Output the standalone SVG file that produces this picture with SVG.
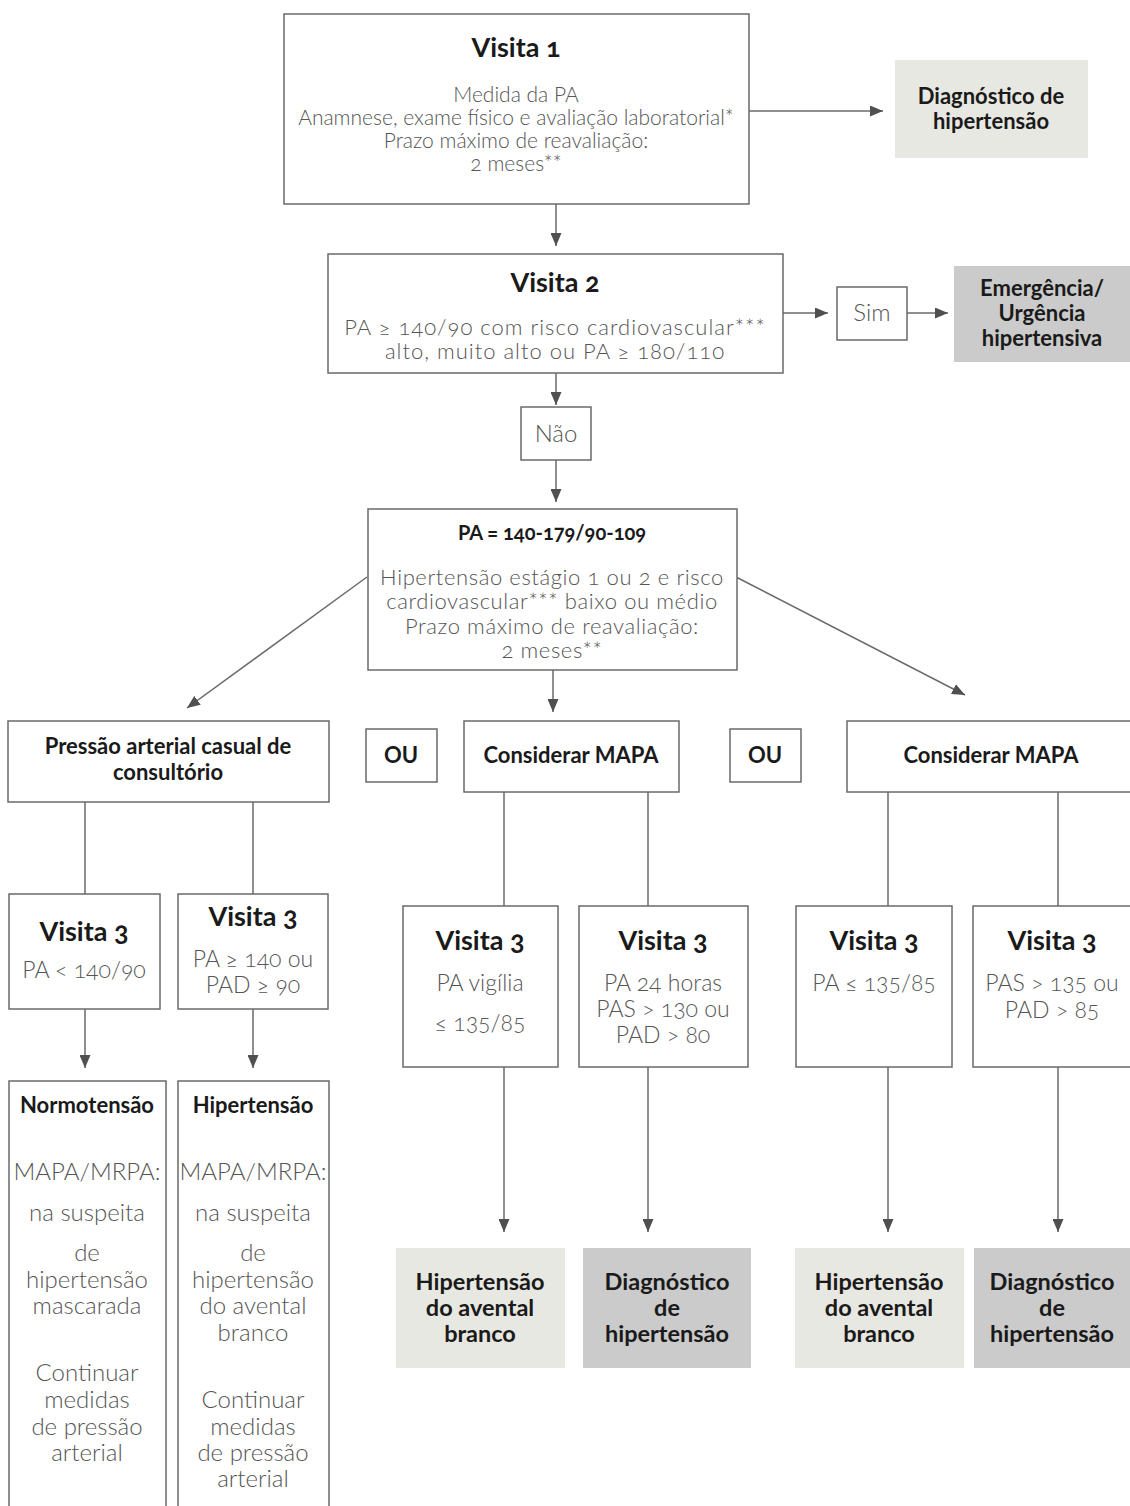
<svg xmlns="http://www.w3.org/2000/svg" width="1130" height="1506" viewBox="0 0 1130 1506">
<defs>
<marker id="ah" markerWidth="13" markerHeight="11" refX="13" refY="5.5" orient="auto" markerUnits="userSpaceOnUse">
<path d="M0,0 L13,5.5 L0,11 z" fill="#505050"/>
</marker>
<style>
text{font-family:Lato,"Open Sans","Liberation Sans",sans-serif;text-anchor:middle;font-variant-numeric:oldstyle-nums}
.box{fill:#fff;stroke:#6a6a6a;stroke-width:1.5}
.lt{fill:#e8e8e2}
.dk{fill:#cbcbcb}
.t1{font-size:27px;font-weight:700;fill:#1a1a1a}
.tb{font-size:22px;font-weight:700;fill:#1a1a1a}
.tf{font-size:23.5px;font-weight:700;fill:#1a1a1a}
.b{font-size:21px;font-weight:300;fill:#555}
.b2{font-size:24px;font-weight:300;fill:#555}
.b3{font-size:23px;font-weight:300;fill:#555}
.bv{font-size:22px;font-weight:300;fill:#555;letter-spacing:1px}
.bp{font-size:22px;font-weight:300;fill:#555;letter-spacing:0.6px}
.c{stroke:#6a6a6a;stroke-width:1.5;fill:none}
.a{stroke:#6a6a6a;stroke-width:1.5;fill:none;marker-end:url(#ah)}
</style>
</defs>
<rect width="1130" height="1506" fill="#fff"/>
<g id="connectors">
<line class="a" x1="749" y1="111" x2="883" y2="111"/>
<line class="a" x1="556" y1="204" x2="556" y2="246"/>
<line class="a" x1="783" y1="313" x2="828" y2="313"/>
<line class="a" x1="907" y1="313" x2="948" y2="313"/>
<line class="a" x1="556" y1="373" x2="556" y2="405"/>
<line class="a" x1="556" y1="460" x2="556" y2="502"/>
<line class="a" x1="367" y1="577" x2="187" y2="708"/>
<line class="a" x1="553" y1="670" x2="553" y2="712"/>
<line class="a" x1="736" y1="577" x2="965" y2="695"/>
<line class="c" x1="85" y1="802" x2="85" y2="894"/>
<line class="c" x1="253" y1="802" x2="253" y2="894"/>
<line class="c" x1="504" y1="792" x2="504" y2="906"/>
<line class="c" x1="648" y1="792" x2="648" y2="906"/>
<line class="c" x1="888" y1="792" x2="888" y2="906"/>
<line class="c" x1="1058" y1="792" x2="1058" y2="906"/>
<line class="a" x1="85" y1="1009" x2="85" y2="1068"/>
<line class="a" x1="253" y1="1009" x2="253" y2="1068"/>
<line class="a" x1="504" y1="1067" x2="504" y2="1232"/>
<line class="a" x1="648" y1="1067" x2="648" y2="1232"/>
<line class="a" x1="888" y1="1067" x2="888" y2="1232"/>
<line class="a" x1="1058" y1="1067" x2="1058" y2="1232"/>
</g>
<g id="visita1">
<rect class="box" x="284" y="14" width="465" height="190"/>
<text class="t1" x="516" y="57">Visita 1</text>
<text class="b" x="516" y="102">Medida da PA</text>
<text class="b" x="516" y="125">Anamnese, exame físico e avaliação laboratorial*</text>
<text class="b" x="516" y="148">Prazo máximo de reavaliação:</text>
<text class="b" x="516" y="171">2 meses**</text>
</g>
<g id="diag-top">
<rect class="lt" x="895" y="60" width="193" height="98"/>
<text class="tb" x="991" y="104">Diagnóstico de</text>
<text class="tb" x="991" y="129">hipertensão</text>
</g>
<g id="visita2">
<rect class="box" x="328" y="254" width="455" height="119"/>
<text class="t1" x="555" y="292">Visita 2</text>
<text class="bv" x="555" y="335">PA ≥ 140/90 com risco cardiovascular***</text>
<text class="bv" x="555" y="359">alto, muito alto ou PA ≥ 180/110</text>
</g>
<g id="sim">
<rect class="box" x="837" y="287" width="70" height="53"/>
<text class="b2" x="872" y="321">Sim</text>
</g>
<g id="emergencia">
<rect class="dk" x="954" y="266" width="176" height="96"/>
<text class="tb" x="1042" y="296">Emergência/</text>
<text class="tb" x="1042" y="321">Urgência</text>
<text class="tb" x="1042" y="346">hipertensiva</text>
</g>
<g id="nao">
<rect class="box" x="521" y="407" width="70" height="53"/>
<text class="b2" x="556" y="442">Não</text>
</g>
<g id="pa">
<rect class="box" x="368" y="509" width="369" height="161"/>
<text class="tb" x="552" y="540" style="font-size:20px">PA = 140-179/90-109</text>
<text class="bp" x="552" y="585">Hipertensão estágio 1 ou 2 e risco</text>
<text class="bp" x="552" y="609">cardiovascular*** baixo ou médio</text>
<text class="bp" x="552" y="634">Prazo máximo de reavaliação:</text>
<text class="bp" x="552" y="658">2 meses**</text>
</g>
<g id="pressao">
<rect class="box" x="8" y="721" width="321" height="81"/>
<text class="tb" x="168" y="754">Pressão arterial casual de</text>
<text class="tb" x="168" y="780">consultório</text>
</g>
<g id="ou1">
<rect class="box" x="366" y="729" width="71" height="53"/>
<text class="tb" x="401" y="763">OU</text>
</g>
<g id="mapa1">
<rect class="box" x="464" y="721" width="215" height="71"/>
<text class="tb" x="571" y="763">Considerar MAPA</text>
</g>
<g id="ou2">
<rect class="box" x="730" y="729" width="71" height="53"/>
<text class="tb" x="765" y="763">OU</text>
</g>
<g id="mapa2">
<rect class="box" x="847" y="721" width="290" height="71"/>
<text class="tb" x="991" y="763">Considerar MAPA</text>
</g>
<g id="v3a">
<rect class="box" x="9" y="894" width="151" height="115"/>
<text class="t1" x="84" y="941">Visita 3</text>
<text class="b3" x="84" y="978">PA &lt; 140/90</text>
</g>
<g id="v3b">
<rect class="box" x="178" y="894" width="150" height="115"/>
<text class="t1" x="253" y="926">Visita 3</text>
<text class="b3" x="253" y="967">PA ≥ 140 ou</text>
<text class="b3" x="253" y="993">PAD ≥ 90</text>
</g>
<g id="v3c">
<rect class="box" x="403" y="906" width="155" height="161"/>
<text class="t1" x="480" y="950">Visita 3</text>
<text class="b3" x="480" y="991">PA vigília</text>
<text class="b3" x="480" y="1031">≤ 135/85</text>
</g>
<g id="v3d">
<rect class="box" x="579" y="906" width="169" height="161"/>
<text class="t1" x="663" y="950">Visita 3</text>
<text class="b3" x="663" y="991">PA 24 horas</text>
<text class="b3" x="663" y="1017">PAS &gt; 130 ou</text>
<text class="b3" x="663" y="1043">PAD &gt; 80</text>
</g>
<g id="v3e">
<rect class="box" x="796" y="906" width="156" height="161"/>
<text class="t1" x="874" y="950">Visita 3</text>
<text class="b3" x="874" y="991">PA ≤ 135/85</text>
</g>
<g id="v3f">
<rect class="box" x="973" y="906" width="158" height="161"/>
<text class="t1" x="1052" y="950">Visita 3</text>
<text class="b3" x="1052" y="991">PAS &gt; 135 ou</text>
<text class="b3" x="1052" y="1018">PAD &gt; 85</text>
</g>
<g id="normotensao">
<rect class="box" x="9" y="1081" width="157" height="440"/>
<text class="tb" x="87" y="1113">Normotensão</text>
<text class="b2" x="87" y="1180">MAPA/MRPA:</text>
<text class="b2" x="87" y="1221">na suspeita</text>
<text class="b2" x="87" y="1261">de</text>
<text class="b2" x="87" y="1288">hipertensão</text>
<text class="b2" x="87" y="1314">mascarada</text>
<text class="b2" x="87" y="1381">Continuar</text>
<text class="b2" x="87" y="1408">medidas</text>
<text class="b2" x="87" y="1435">de pressão</text>
<text class="b2" x="87" y="1461">arterial</text>
</g>
<g id="hipertensao">
<rect class="box" x="178" y="1081" width="151" height="440"/>
<text class="tb" x="253" y="1113">Hipertensão</text>
<text class="b2" x="253" y="1180">MAPA/MRPA:</text>
<text class="b2" x="253" y="1221">na suspeita</text>
<text class="b2" x="253" y="1261">de</text>
<text class="b2" x="253" y="1288">hipertensão</text>
<text class="b2" x="253" y="1314">do avental</text>
<text class="b2" x="253" y="1341">branco</text>
<text class="b2" x="253" y="1408">Continuar</text>
<text class="b2" x="253" y="1435">medidas</text>
<text class="b2" x="253" y="1461">de pressão</text>
<text class="b2" x="253" y="1487">arterial</text>
</g>
<g id="res1">
<rect class="lt" x="396" y="1248" width="169" height="120"/>
<text class="tf" x="480" y="1290">Hipertensão</text>
<text class="tf" x="480" y="1316">do avental</text>
<text class="tf" x="480" y="1342">branco</text>
</g>
<g id="res2">
<rect class="dk" x="583" y="1248" width="168" height="120"/>
<text class="tf" x="667" y="1290">Diagnóstico</text>
<text class="tf" x="667" y="1316">de</text>
<text class="tf" x="667" y="1342">hipertensão</text>
</g>
<g id="res3">
<rect class="lt" x="795" y="1248" width="169" height="120"/>
<text class="tf" x="879" y="1290">Hipertensão</text>
<text class="tf" x="879" y="1316">do avental</text>
<text class="tf" x="879" y="1342">branco</text>
</g>
<g id="res4">
<rect class="dk" x="974" y="1248" width="160" height="120"/>
<text class="tf" x="1052" y="1290">Diagnóstico</text>
<text class="tf" x="1052" y="1316">de</text>
<text class="tf" x="1052" y="1342">hipertensão</text>
</g>
</svg>
